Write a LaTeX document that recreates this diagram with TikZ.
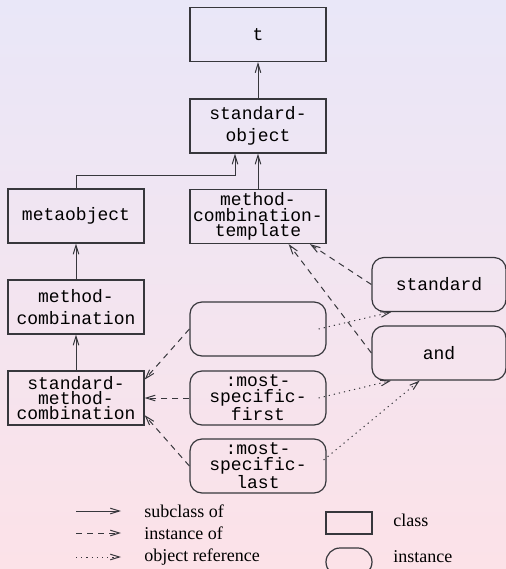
\documentclass[tikz,border=0pt]{standalone}
\usepackage{fontspec}
\setmainfont{Liberation Serif}
\setmonofont{Liberation Mono}
\usetikzlibrary{arrows.meta,calc}
\definecolor{bgtop}{RGB}{233,231,248}
\definecolor{bgbot}{RGB}{252,226,232}
\definecolor{ln}{RGB}{55,55,60}
\begin{document}
\begin{tikzpicture}[x=0.5pt,y=-0.5pt,
  cls/.style={draw=ln,line width=0.6pt,rectangle,minimum width=68pt,minimum height=27pt,inner sep=0pt,align=center,font=\ttfamily\fontsize{9}{11}\selectfont},
  inst/.style={cls,rounded corners=6pt,minimum width=68pt},
  tight/.style={font=\ttfamily\fontsize{9}{7.6}\selectfont},
  tipx/.style={-{Straight Barb[length=4.5pt,width=2.8pt]}},
  sub/.style={draw=ln,line width=0.5pt,tipx},
  ins/.style={draw=ln,line width=0.5pt,dash pattern=on 3pt off 2.5pt,tipx},
  ref/.style={draw=ln,line width=0.5pt,dash pattern=on 0.6pt off 2pt,tipx},
  lg/.style={anchor=west,inner sep=0pt,font=\fontsize{9}{11}\selectfont}]
\shade[top color=bgtop,bottom color=bgbot] (0,0) rectangle (506,569);
\useasboundingbox (0,0) rectangle (506,569);
% classes
\node[cls] (t) at (258,34.5) {t};
\node[cls] (so) at (258,126) {standard-\\object};
\node[cls,tight] (mct) at (258,216.5) {method-\\combination-\\template};
\node[cls] (mo) at (76,216) {metaobject};
\node[cls] (mc) at (76,307) {method-\\combination};
\node[cls,tight] (smc) at (76,398) {standard-\\method-\\combination};
% instances
\node[inst] (blank) at (258,329) {};
\node[inst,tight] (msf) at (258,398) {:most-\\specific-\\first};
\node[inst,tight] (msl) at (258,466) {:most-\\specific-\\last};
\node[inst,minimum width=67pt] (std) at (439,284.5) {standard};
\node[inst,minimum width=67pt] (and) at (439,353) {and};
% subclass
\draw[sub] (so) -- (t);
\draw[sub] (mct) -- (so);
\coordinate (k) at (235,175);
\draw[sub] (mo.north) |- (k) -- (k |- so.south);
\draw[sub] (mc) -- (mo);
\draw[sub] (smc) -- (mc);
% instance of
\draw[ins] (blank.west) -- (smc.15);
\draw[ins] (msf.west) -- (smc.east);
\draw[ins] (msl.west) -- (smc.-14);
\draw[ins] (std.west) -- (mct.-28);
\draw[ins] (and.west) -- (mct.-42);
% object reference
\draw[ref] ($(blank.east)+(-4pt,0)$) -- (std.-150);
\draw[ref] ($(msf.east)+(-4pt,0)$) -- (and.-150);
\draw[ref] ($(msl.east)+(-1.5pt,3pt)$) -- (and.-125);
% legend
\coordinate (l1a) at (76,511); \coordinate (l1b) at (121,511);
\coordinate (l2a) at (76,533); \coordinate (l2b) at (121,533);
\coordinate (l3a) at (76,557); \coordinate (l3b) at (121,557);
\draw[sub] (l1a) -- (l1b);
\draw[ins] (l2a) -- (l2b);
\draw[ref] (l3a) -- (l3b);
\node[lg] (t1) at (144,511) {subclass of};
\node[lg] (t2) at (144,533) {instance of};
\node[lg] (t3) at (144,557) {object reference};
\draw[draw=ln,line width=0.6pt] (326,512) rectangle (372,534);
\draw[draw=ln,line width=0.6pt,rounded corners=7pt] (326,548) rectangle (372,576);
\node[lg] (t4) at (393,520) {class};
\node[lg] (t5) at (393,557) {instance};
\end{tikzpicture}
\end{document}
